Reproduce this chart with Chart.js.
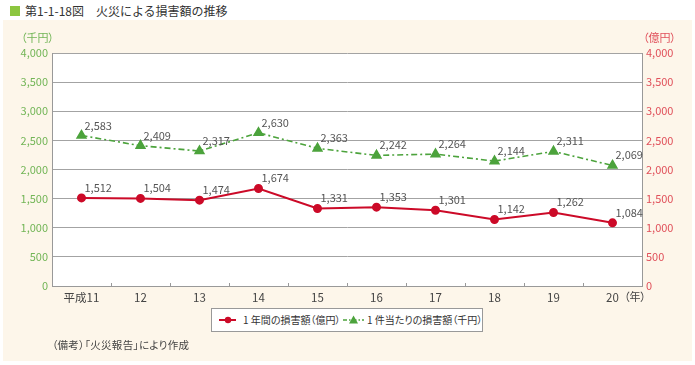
<!DOCTYPE html>
<html><head><meta charset="utf-8">
<script src="https://cdn.jsdelivr.net/npm/chart.js@4/dist/chart.umd.min.js"></script>
<style>
html,body{margin:0;padding:0;width:695px;height:365px;overflow:hidden;background:#fff;font-family:"Noto Sans CJK JP",sans-serif;}
#panel{position:absolute;left:3px;top:20px;width:689px;height:341px;background:#fdf6ea;}
#c{position:absolute;left:0;top:0;}
.t{position:absolute;white-space:nowrap;line-height:1;}
.p{font-feature-settings:"palt";}
#legend{position:absolute;left:211px;top:308px;width:270px;height:22px;background:#fff;border:1px solid #999;font-size:10px;color:#333;}
#legend .s{position:absolute;top:6px;}
#legend .l{position:absolute;top:6px;white-space:nowrap;line-height:1;font-feature-settings:"palt";}
</style></head><body>
<div id="panel"></div>
<div style="position:absolute;left:10px;top:6px;width:10px;height:10px;background:#8cc63f"></div>
<div class="t" style="left:25px;top:5px;font-size:12px;color:#333">第1-1-18図　火災による損害額の推移</div>
<canvas id="c" width="695" height="365"></canvas>
<div class="t p" style="left:21px;top:32px;font-size:11px;color:#72b556">（千円）</div>
<div class="t p" style="left:643px;top:32px;font-size:11px;color:#e0505a">（億円）</div>
<div class="t p" style="left:624px;top:291px;font-size:11px;color:#444">（年）</div>
<div id="legend">
  <svg class="s" style="left:7px" width="18" height="10"><line x1="0" y1="5" x2="17" y2="5" stroke="#cc0a28" stroke-width="2"/><circle cx="9" cy="5" r="3.2" fill="#cc0a28"/></svg>
  <div class="l" style="left:31px">1 年間の損害額（億円）</div>
  <svg class="s" style="left:131px" width="22" height="10"><line x1="0" y1="5" x2="21" y2="5" stroke="#4ca33c" stroke-width="1.5" stroke-dasharray="4,2,1.5,2"/><polygon points="10.5,0.5 15,8.5 6,8.5" fill="#4ca33c"/></svg>
  <div class="l" style="left:155px">1 件当たりの損害額（千円）</div>
</div>
<div class="t" style="left:52px;top:340px;font-size:10.5px;color:#444;font-feature-settings:'palt';letter-spacing:0.3px">（備考）「火災報告」により作成</div>
<script>
const categories = ["平成11","12","13","14","15","16","17","18","19","20"];
const annualLoss = [1512,1504,1474,1674,1331,1353,1301,1142,1262,1084];     // 億円 (right axis)
const lossPerFire = [2583,2409,2317,2630,2363,2242,2264,2144,2311,2069];    // 千円 (left axis)
const yTicks = [0,500,1000,1500,2000,2500,3000,3500,4000];

const FONT = '"Noto Sans CJK JP", sans-serif';
const fmt = v => v.toLocaleString('en-US');

const plotBg = {
  id:'plotBg',
  beforeDraw(chart){
    const {ctx, chartArea:a} = chart;
    ctx.save(); ctx.fillStyle='#fff'; ctx.fillRect(a.left,a.top,a.right-a.left,a.bottom-a.top); ctx.restore();
  }
};
const xTickMarks = {
  id:'xTickMarks',
  afterDraw(chart){
    const {ctx, chartArea:a} = chart; const xs = chart.scales.x;
    ctx.save(); ctx.strokeStyle='#999'; ctx.lineWidth=1;
    for(let i=0;i<categories.length-1;i++){
      const x = Math.round((xs.getPixelForValue(i)+xs.getPixelForValue(i+1))/2)+0.5;
      ctx.beginPath(); ctx.moveTo(x,a.bottom); ctx.lineTo(x,a.bottom-3); ctx.stroke();
    }
    ctx.restore();
  }
};
const dataLabels = {
  id:'dataLabels',
  afterDatasetsDraw(chart){
    const ctx = chart.ctx;
    ctx.save(); ctx.font = '11px '+FONT; ctx.fillStyle='#555'; ctx.textAlign='left'; ctx.textBaseline='alphabetic';
    chart.data.datasets.forEach((ds,di)=>{
      chart.getDatasetMeta(di).data.forEach((pt,i)=>{
        ctx.fillText(fmt(ds.data[i]), pt.x+3, pt.y-6);
      });
    });
    ctx.restore();
  }
};

new Chart(document.getElementById('c'), {
  type:'line',
  data:{
    labels: categories,
    datasets:[
      {label:'1件当たりの損害額（千円）', data: lossPerFire, yAxisID:'yL', borderColor:'#4ca33c', backgroundColor:'#4ca33c',
       borderWidth:1.6, borderDash:[6,3,2,3], pointStyle:'triangle', pointRadius:5, pointHoverRadius:5, tension:0},
      {label:'1年間の損害額（億円）', data: annualLoss, yAxisID:'yR', borderColor:'#cc0a28', backgroundColor:'#cc0a28',
       borderWidth:2, pointStyle:'circle', pointRadius:3.5, pointHoverRadius:3.5, tension:0}
    ]
  },
  options:{
    responsive:false, animation:false, devicePixelRatio:1,
    layout:{padding:{top:53,left:0,right:0,bottom:0}},
    plugins:{legend:{display:false}, tooltip:{enabled:false}},
    scales:{
      x:{offset:true, grid:{display:false, drawTicks:false}, border:{color:'#999'},
         ticks:{font:{family:FONT,size:11.5}, color:'#444', padding:5, maxRotation:0},
         afterFit(s){ s.height = 79; }},
      yL:{position:'left', min:0, max:4000, afterBuildTicks(s){ s.ticks = yTicks.map(v=>({value:v})); },
          grid:{color:'#a3a3a3', drawTicks:false}, border:{color:'#999'},
          ticks:{font:{family:FONT,size:11}, color:'#72b556', padding:4, callback:v=>fmt(v)},
          afterFit(s){ s.width = 52; }},
      yR:{position:'right', min:0, max:4000, afterBuildTicks(s){ s.ticks = yTicks.map(v=>({value:v})); },
          grid:{drawOnChartArea:false, drawTicks:false}, border:{color:'#999'},
          ticks:{font:{family:FONT,size:11}, color:'#e0505a', padding:4, callback:v=>fmt(v)},
          afterFit(s){ s.width = 53; }}
    }
  },
  plugins:[plotBg, xTickMarks, dataLabels]
});
</script>
</body></html>
